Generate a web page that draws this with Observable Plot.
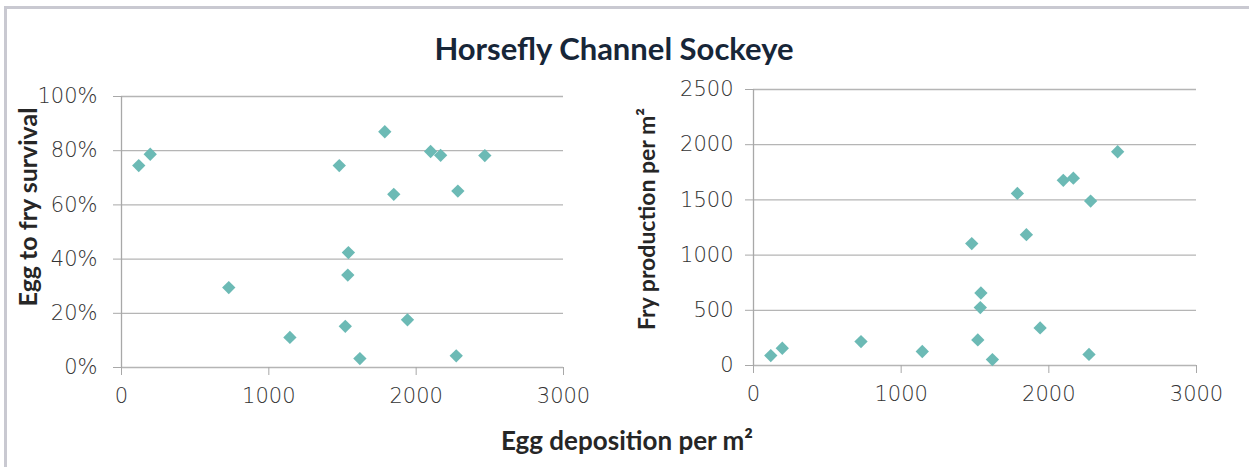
<!DOCTYPE html>
<html>
<head>
<meta charset="utf-8">
<script src="https://cdn.jsdelivr.net/npm/d3@7"></script>
<script src="https://cdn.jsdelivr.net/npm/@observablehq/plot@0.6"></script>
<style>
  html, body { margin: 0; padding: 0; background: #fff; }
  #chart { position: relative; width: 1249px; height: 467px; overflow: hidden; font-family: Lato, "Open Sans", sans-serif; }
  #frame { position: absolute; left: 4px; top: 6px; width: 1300px; height: 500px; border-left: 3px solid #c9c9d1; border-top: 3px solid #c9c9d1; box-sizing: border-box; }
  .lbl { position: absolute; white-space: nowrap; transform: translate(-50%, -50%); line-height: 1; }
  #title { left: 614px; top: 48px; font-size: 31px; font-weight: 700; color: #172638; }
  #xlabel { left: 627px; top: 440px; font-size: 26px; font-weight: 700; color: #262626; }
  .ylab { font-weight: 700; color: #262626; transform: translate(-50%, -50%) rotate(-90deg); }
  #ylab1 { left: 27px; top: 207px; font-size: 25px; }
  #ylab2 { left: 646px; top: 219px; font-size: 23px; }
  .panel { position: absolute; top: 80px; }
  #p1 { left: 0px; }
  #p2 { left: 620px; }
</style>
</head>
<body>
<div id="chart">
  <div id="frame"></div>
  <div id="title" class="lbl">Horsefly Channel Sockeye</div>
  <div id="ylab1" class="lbl ylab">Egg to fry survival</div>
  <div id="ylab2" class="lbl ylab">Fry production per m²</div>
  <div id="xlabel" class="lbl">Egg deposition per m²</div>
  <div id="p1" class="panel"></div>
  <div id="p2" class="panel"></div>
</div>
<script>
// Data
const eggDeposition = [117, 195, 728, 1143, 1478, 1787, 1848, 1540, 1536, 1519, 1618, 1941, 2098, 2166, 2466, 2283, 2272];
const survival = [0.745, 0.787, 0.295, 0.111, 0.745, 0.870, 0.639, 0.424, 0.341, 0.152, 0.033, 0.176, 0.797, 0.783, 0.782, 0.651, 0.043];
const fryProduction = [90, 156, 217, 127, 1104, 1559, 1185, 657, 525, 232, 54, 340, 1677, 1697, 1936, 1489, 100];

const xTicks = [0, 1000, 2000, 3000];
const survivalTicks = [0, 0.2, 0.4, 0.6, 0.8, 1.0];
const fryTicks = [0, 500, 1000, 1500, 2000, 2500];

const rows = eggDeposition.map((e, i) => ({egg: e, surv: survival[i], fry: fryProduction[i]}));

const gridColor = "#b5b5b5";
const axisColor = "#a8a8a8";
const dotColor = "#6cbab5";
const textColor = "#333333";
const baseStyle = {fontFamily: "'DejaVu Sans', 'Open Sans', sans-serif", fontSize: "21px", fontWeight: 300, color: textColor, background: "transparent", overflow: "visible"};

function panel({yKey, yDomain, yTicks, yFormat, width, height, margins, yPad}) {
  return Plot.plot({
    width, height,
    ...margins,
    style: baseStyle,
    x: {domain: [0, 3000]},
    y: {domain: yDomain},
    marks: [
      Plot.ruleY(yTicks, {stroke: gridColor, strokeWidth: 1.3}),
      Plot.ruleX([0], {stroke: axisColor, strokeWidth: 1.3}),
      Plot.axisY(yTicks, {tickSize: 8, tickPadding: yPad, tickFormat: yFormat, stroke: axisColor, fill: textColor, fontSize: 21, label: null}),
      Plot.axisX(xTicks, {tickSize: 8, tickPadding: 13, tickFormat: d3.format("d"), stroke: axisColor, fill: textColor, fontSize: 21, label: null}),
      Plot.dot(rows, {x: "egg", y: yKey, symbol: "diamond2", r: 6, fill: dotColor, stroke: "none"})
    ]
  });
}

document.getElementById("p1").append(panel({
  yKey: "surv", yDomain: [0, 1], yTicks: survivalTicks, yFormat: d3.format(".0%"),
  width: 600, height: 330,
  margins: {marginLeft: 121, marginRight: 37, marginTop: 16, marginBottom: 43},
  yPad: 16
}));

document.getElementById("p2").append(panel({
  yKey: "fry", yDomain: [0, 2500], yTicks: fryTicks, yFormat: d3.format("d"),
  width: 629, height: 330,
  margins: {marginLeft: 133, marginRight: 53, marginTop: 9, marginBottom: 45},
  yPad: 12
}));
</script>
</body>
</html>
